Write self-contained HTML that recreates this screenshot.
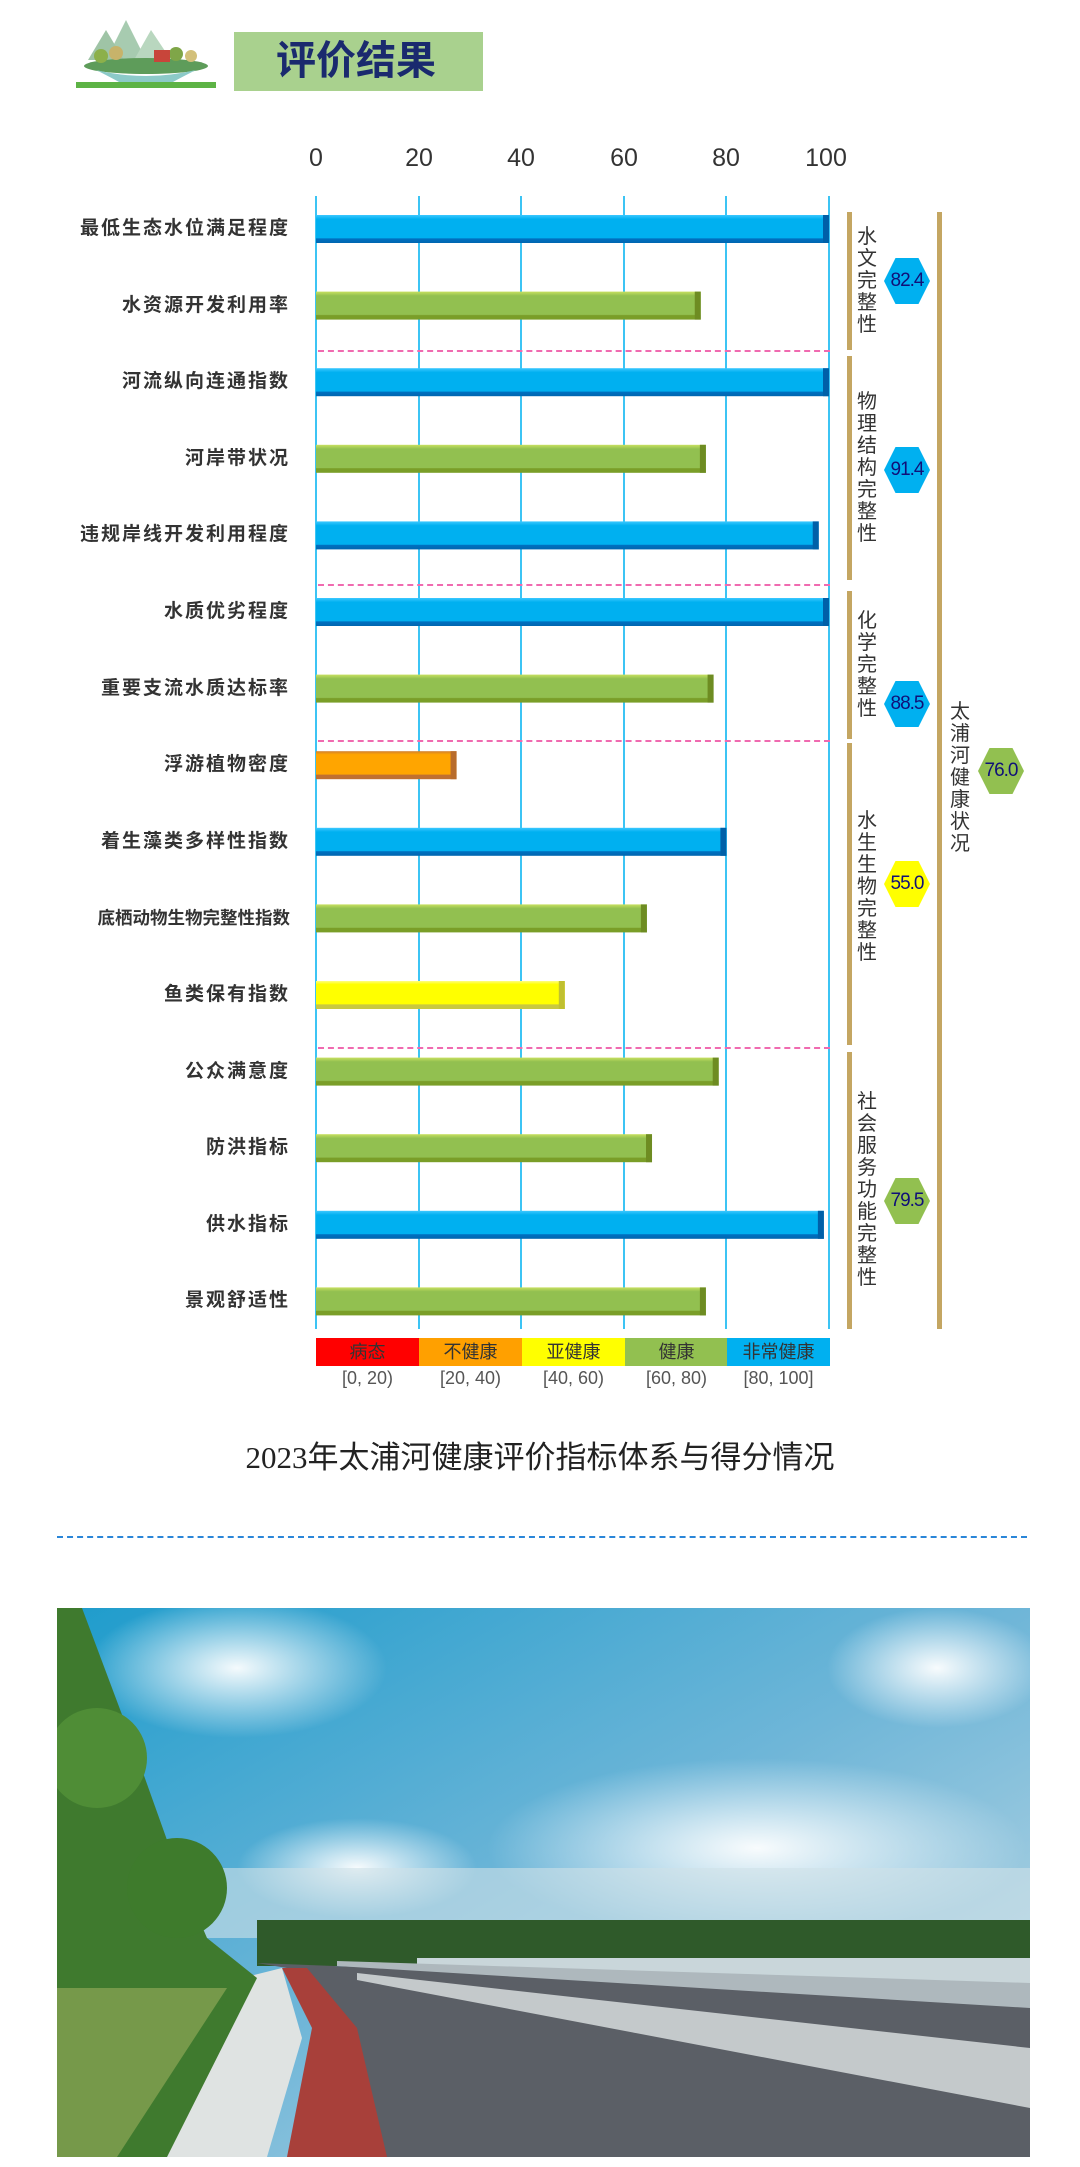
<!DOCTYPE html>
<html><head><meta charset="utf-8">
<style>
*{margin:0;padding:0;box-sizing:border-box}
body{width:1080px;height:2167px;background:#fff;position:relative;overflow:hidden;font-family:"Liberation Sans","Noto Sans CJK SC",sans-serif}
.a{position:absolute}
.tick{position:absolute;top:144px;width:60px;margin-left:-30px;text-align:center;font-size:25px;color:#333}
.grid{position:absolute;top:196px;height:1133px;width:2px;background:#3cc4f4}
.lbl{position:absolute;left:20px;width:270px;text-align:right;font-size:19px;font-weight:bold;color:#333;letter-spacing:2px;line-height:28px;white-space:nowrap}
.sep{position:absolute;left:318px;width:512px;border-top:2px dashed #f06ab0}
.brk{position:absolute;width:5px;background:#c4a662}
.gl{position:absolute;width:24px;font-size:20px;line-height:22px;color:#333;text-align:center}
.hex{position:absolute;width:46px;height:46px;clip-path:polygon(25% 0,75% 0,100% 50%,75% 100%,25% 100%,0 50%);text-align:center;line-height:46px;font-size:19px;color:#101078;letter-spacing:-1px}
.lg{position:absolute;top:1338px;height:28px;width:103px;text-align:center;font-size:18px;line-height:28px;color:#333}
.rg{position:absolute;top:1368px;width:103px;text-align:center;font-size:18px;color:#555}
</style></head><body>

<svg class="a" style="left:76px;top:20px" width="140" height="70" viewBox="0 0 140 70">
<polygon points="50,0 70,40 30,40" fill="#a7cbb0"/>
<polygon points="75,10 95,40 58,40" fill="#b9d7bf"/>
<polygon points="30,10 48,40 12,40" fill="#9fc4a6"/>
<ellipse cx="70" cy="46" rx="62" ry="8" fill="#5e9c5a"/>
<circle cx="25" cy="36" r="7" fill="#8cb04a"/><circle cx="40" cy="33" r="7" fill="#c7b36a"/>
<circle cx="100" cy="34" r="7" fill="#7fa648"/><circle cx="115" cy="36" r="6" fill="#d3c07a"/>
<rect x="78" y="30" width="16" height="12" fill="#c8453a"/>
<path d="M20,50 Q70,62 120,50 Q100,60 90,66 L50,66 Q40,60 20,50Z" fill="#8ccac8"/>
<rect x="0" y="62" width="140" height="6" fill="#5db345"/>
</svg>
<div class="a" style="left:234px;top:32px;width:249px;height:59px;background:#a9d18e;color:#1a2a6e;font-size:40px;line-height:59px;padding-left:42px;font-weight:bold">评价结果</div>

<div class="tick" style="left:316px">0</div>
<div class="tick" style="left:419px">20</div>
<div class="tick" style="left:521px">40</div>
<div class="tick" style="left:624px">60</div>
<div class="tick" style="left:726px">80</div>
<div class="tick" style="left:826px">100</div>

<div class="grid" style="left:315px"></div>
<div class="grid" style="left:418px"></div>
<div class="grid" style="left:520px"></div>
<div class="grid" style="left:623px"></div>
<div class="grid" style="left:725px"></div>
<div class="grid" style="left:828px"></div>

<svg class="a" style="left:0;top:0" width="1080" height="1340">
<defs>
<linearGradient id="gb" x1="0" y1="0" x2="0" y2="1"><stop offset="0" stop-color="#3cc8ff"/><stop offset=".15" stop-color="#00b0f0"/><stop offset=".82" stop-color="#00b0f0"/><stop offset=".85" stop-color="#0070c0"/><stop offset="1" stop-color="#0066b0"/></linearGradient>
<linearGradient id="gg" x1="0" y1="0" x2="0" y2="1"><stop offset="0" stop-color="#c8e060"/><stop offset=".15" stop-color="#92c050"/><stop offset=".82" stop-color="#92c050"/><stop offset=".85" stop-color="#7a9e28"/><stop offset="1" stop-color="#7a9e28"/></linearGradient>
<linearGradient id="go" x1="0" y1="0" x2="0" y2="1"><stop offset="0" stop-color="#d08030"/><stop offset=".12" stop-color="#ffa500"/><stop offset=".82" stop-color="#ffa500"/><stop offset=".85" stop-color="#c07030"/><stop offset="1" stop-color="#c07030"/></linearGradient>
<linearGradient id="gy" x1="0" y1="0" x2="0" y2="1"><stop offset="0" stop-color="#ffff80"/><stop offset=".12" stop-color="#ffff00"/><stop offset=".82" stop-color="#ffff00"/><stop offset=".85" stop-color="#c8c840"/><stop offset="1" stop-color="#c8c840"/></linearGradient>
</defs>
<g id="bars"></g>
</svg>

<div id="rows"></div>

<div class="sep" style="top:350px"></div>
<div class="sep" style="top:584px"></div>
<div class="sep" style="top:740px"></div>
<div class="sep" style="top:1047px"></div>

<div class="brk" style="left:847px;top:212px;height:138px"></div>
<div class="brk" style="left:847px;top:356px;height:224px"></div>
<div class="brk" style="left:847px;top:591px;height:148px"></div>
<div class="brk" style="left:847px;top:743px;height:302px"></div>
<div class="brk" style="left:847px;top:1052px;height:277px"></div>
<div class="brk" style="left:937px;top:212px;height:1117px"></div>

<div class="gl" style="left:855px;top:226px">水文完整性</div>
<div class="gl" style="left:855px;top:391px">物理结构完整性</div>
<div class="gl" style="left:855px;top:610px">化学完整性</div>
<div class="gl" style="left:855px;top:810px">水生生物完整性</div>
<div class="gl" style="left:855px;top:1091px">社会服务功能完整性</div>
<div class="gl" style="left:948px;top:701px">太浦河健康状况</div>

<div class="hex" style="left:884px;top:258px;background:#00b0f0">82.4</div>
<div class="hex" style="left:884px;top:447px;background:#00b0f0">91.4</div>
<div class="hex" style="left:884px;top:681px;background:#00b0f0">88.5</div>
<div class="hex" style="left:884px;top:861px;background:#ffff00">55.0</div>
<div class="hex" style="left:884px;top:1178px;background:#92c050">79.5</div>
<div class="hex" style="left:978px;top:748px;background:#92c050">76.0</div>

<div class="lg" style="left:316px;background:#ff0000">病态</div>
<div class="lg" style="left:419px;background:#ffa000">不健康</div>
<div class="lg" style="left:522px;background:#ffff00">亚健康</div>
<div class="lg" style="left:625px;background:#92c050">健康</div>
<div class="lg" style="left:727px;background:#00b0f0">非常健康</div>
<div class="rg" style="left:316px">[0, 20)</div>
<div class="rg" style="left:419px">[20, 40)</div>
<div class="rg" style="left:522px">[40, 60)</div>
<div class="rg" style="left:625px">[60, 80)</div>
<div class="rg" style="left:727px">[80, 100]</div>

<div class="a" style="left:0;width:1080px;top:1432px;text-align:center;font-size:31px;color:#222;font-family:'Liberation Serif','Noto Sans CJK SC',serif">2023年太浦河健康评价指标体系与得分情况</div>

<div class="a" style="left:57px;top:1536px;width:970px;border-top:2px dashed #2a86d8"></div>

<svg class="a" style="left:57px;top:1608px" width="973" height="549" viewBox="0 0 973 549">
<defs>
<linearGradient id="sky" x1="0" y1="0" x2="1" y2="1"><stop offset="0" stop-color="#1e9ccc"/><stop offset=".5" stop-color="#6fb6d8"/><stop offset="1" stop-color="#c8dde6"/></linearGradient>
<radialGradient id="cl" cx=".5" cy=".5" r=".5"><stop offset="0" stop-color="#fff" stop-opacity=".95"/><stop offset="1" stop-color="#fff" stop-opacity="0"/></radialGradient>
</defs>
<rect width="973" height="549" fill="url(#sky)"/>
<ellipse cx="180" cy="60" rx="150" ry="70" fill="url(#cl)"/>
<ellipse cx="880" cy="60" rx="110" ry="60" fill="url(#cl)"/>
<ellipse cx="700" cy="240" rx="270" ry="90" fill="url(#cl)"/>
<ellipse cx="300" cy="260" rx="120" ry="50" fill="url(#cl)"/>
<rect x="0" y="260" width="973" height="70" fill="#cfe1e8" opacity=".6"/>
<rect x="200" y="312" width="773" height="46" fill="#2f5a2a"/>
<rect x="360" y="350" width="613" height="120" fill="#c9d6da"/>
<polygon points="200,355 973,385 973,549 320,549 230,360" fill="#5b5f66"/>
<polygon points="225,360 250,360 300,420 330,549 230,549 255,420" fill="#a8403a"/>
<polygon points="185,370 225,360 245,430 210,549 110,549" fill="#dfe3e2"/>
<polygon points="280,353 973,375 973,400 280,358" fill="#aeb8bd"/>
<polygon points="300,365 973,440 973,500 300,372" fill="#c4c9cb"/>
<path d="M0,0 L25,0 L70,120 L120,260 L150,330 L200,370 L110,549 L0,549Z" fill="#3f7a2e"/>
<path d="M0,380 L170,380 L60,549 L0,549Z" fill="#76994a"/>
<circle cx="40" cy="150" r="50" fill="#4f8d36"/><circle cx="120" cy="280" r="50" fill="#3e7b2c"/>
</svg>

<script>
var names=["最低生态水位满足程度","水资源开发利用率","河流纵向连通指数","河岸带状况","违规岸线开发利用程度","水质优劣程度","重要支流水质达标率","浮游植物密度","着生藻类多样性指数","底栖动物生物完整性指数","鱼类保有指数","公众满意度","防洪指标","供水指标","景观舒适性"];
var vals=[100,75,100,76,98,100,77.5,27.4,80,64.5,48.5,78.5,65.5,99,76];
var cols=["gb","gg","gb","gg","gb","gb","gg","go","gb","gg","gy","gg","gg","gb","gg"];
var caps={gb:"#0060a8",gg:"#6e8c22",go:"#b86c2c",gy:"#c0c030"};
var g=document.getElementById("bars"),rows=document.getElementById("rows"),s="",h="";
for(var i=0;i<15;i++){var c=229+76.6*i,y=c-14,w=vals[i]*5.13;
s+='<rect x="316" y="'+y+'" width="'+w+'" height="28" fill="url(#'+cols[i]+')"/>';
s+='<rect x="'+(316+w-6)+'" y="'+y+'" width="6" height="28" fill="'+caps[cols[i]]+'"/>';
var st=(i==9)?'letter-spacing:0;font-size:17.5px;':'';
h+='<div class="lbl" style="'+st+'top:'+(c-14)+'px">'+names[i]+'</div>';}
g.innerHTML=s;rows.innerHTML=h;
</script>
</body></html>
